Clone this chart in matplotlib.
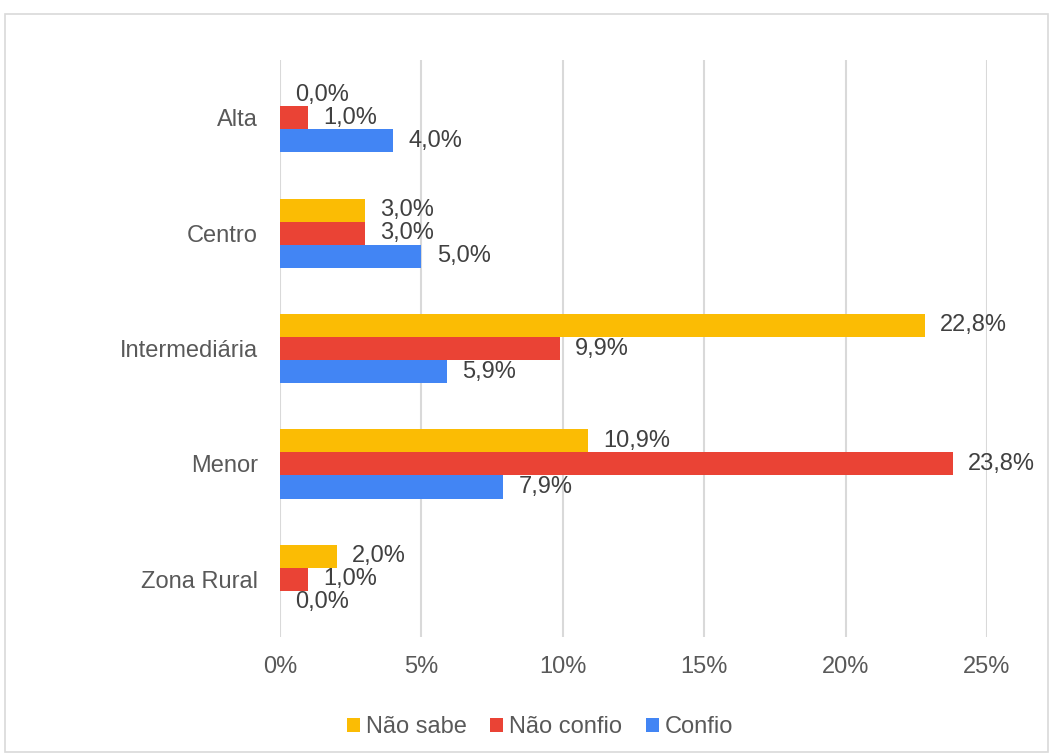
import matplotlib.pyplot as plt
from matplotlib.patches import Patch, Rectangle
import numpy as np

# Data (percent)
categories = ['Alta', 'Centro', 'Intermediária', 'Menor', 'Zona Rural']
nao_sabe = [0.0, 3.0, 22.8, 10.9, 2.0]
nao_confio = [1.0, 3.0, 9.9, 23.8, 1.0]
confio = [4.0, 5.0, 5.9, 7.9, 0.0]

series = [('Não sabe', nao_sabe, '#FBBC04'),
          ('Não confio', nao_confio, '#EA4335'),
          ('Confio', confio, '#4285F4')]

plt.rcParams['font.family'] = ['Liberation Sans', 'DejaVu Sans']

fig = plt.figure(figsize=(10.53, 7.56), dpi=100)
ax = fig.add_axes([0.2659, 0.1574, 0.9373 - 0.2659, 0.9206 - 0.1574])

# Light border around the whole chart
fig.patches.append(Rectangle((0.005, 0.005), 0.99, 0.977, transform=fig.transFigure,
                             fill=False, edgecolor='#d9d9d9', linewidth=1.2))

y = np.arange(len(categories))
h = 0.2
for i, (name, vals, color) in enumerate(series):
    pos = y + (i - 1) * h
    ax.barh(pos, vals, height=h, color=color, label=name)
    for p, v in zip(pos, vals):
        ax.annotate(f'{v:.1f}%'.replace('.', ','), (v, p), xytext=(11, 0),
                    textcoords='offset points', va='center', ha='left',
                    fontsize=17, color='#404040')

ax.set_xlim(0, 25)
ax.set_ylim(len(categories) - 0.5, -0.5)
ax.set_yticks(y)
ax.set_yticklabels(categories)
ax.set_xticks(np.arange(0, 26, 5))
ax.set_xticklabels([f'{t}%' for t in range(0, 26, 5)])
ax.tick_params(axis='both', length=0, labelsize=17, labelcolor='#595959')
ax.tick_params(axis='y', pad=16)
ax.tick_params(axis='x', pad=14)
ax.grid(axis='x', color='#d9d9d9', linewidth=1.5)
ax.set_axisbelow(True)
for s in ax.spines.values():
    s.set_visible(False)

handles = [Patch(facecolor=c, edgecolor='none') for _, _, c in series]
fig.legend(handles, [n for n, _, _ in series], loc='center',
           bbox_to_anchor=(0.513, 0.038), ncol=3, frameon=False,
           fontsize=17, labelcolor='#595959', handlelength=0.55,
           handleheight=0.55, handletextpad=0.25, columnspacing=1.0)

fig.savefig('out.png', dpi=100)
